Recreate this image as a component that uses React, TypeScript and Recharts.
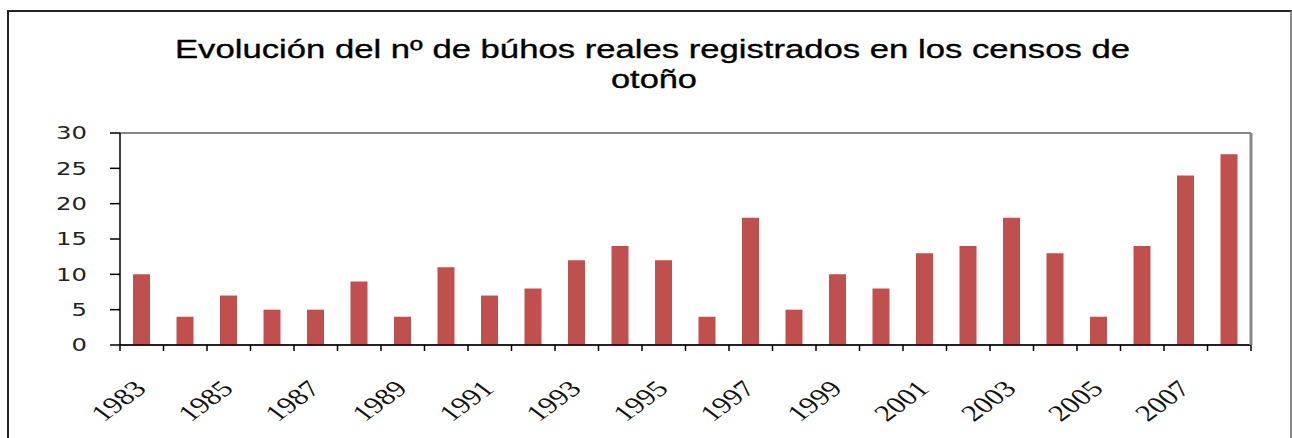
import React from 'react';
import { BarChart, Bar, XAxis, YAxis, CartesianGrid, ReferenceLine } from 'recharts';

const years = ['1983', '1984', '1985', '1986', '1987', '1988', '1989', '1990', '1991', '1992', '1993', '1994', '1995',
  '1996', '1997', '1998', '1999', '2000', '2001', '2002', '2003', '2004', '2005', '2006', '2007', '2008'];
const owls = [10, 4, 7, 5, 5, 9, 4, 11, 7, 8, 12, 14, 12, 4, 18, 5, 10, 8, 13, 14, 18, 13, 4, 14, 24, 27];
const yTicks = [0, 5, 10, 15, 20, 25, 30];
const titleLines = ['Evolución del nº de búhos reales registrados en los censos de', 'otoño'];

const data = years.map((year, i) => ({ year, value: owls[i] }));

const W = 1292;
const H = 438;
const PLOT_LEFT = 120;
const PLOT_RIGHT = 1251;
const STRETCH = 1.35;

const YTick = ({ x, y, payload }: any) => (
  <text
    transform={`translate(${x},${y}) scale(${STRETCH},1)`}
    textAnchor="end"
    dy="0.36em"
    fontFamily="'DejaVu Sans', sans-serif"
    fontSize={18}
    fill="#222"
  >
    {payload.value}
  </text>
);

const XTick = ({ x, y, payload, index }: any) => {
  const half = payload.offset || (PLOT_RIGHT - PLOT_LEFT) / years.length / 2;
  const last = index === years.length - 1;
  return (
    <g>
      <line x1={x - half} x2={x - half} y1={y} y2={y + 6} stroke="#000" strokeWidth={1.5} />
      {last && <line x1={x + half} x2={x + half} y1={y} y2={y + 6} stroke="#000" strokeWidth={1.5} />}
      {index % 2 === 0 && (
        <text
          transform={`translate(${x + 6},${y + 45}) scale(${STRETCH},1) rotate(-45)`}
          textAnchor="end"
          fontFamily="'Liberation Serif', serif"
          fontSize={23}
          fill="#111"
        >
          {payload.value}
        </text>
      )}
    </g>
  );
};

export default function App() {
  return (
    <div style={{ position: 'absolute', left: 0, top: 0, width: W, height: H, background: '#fff', overflow: 'hidden' }}>
      <div
        style={{
          position: 'absolute', left: 7, top: 10, width: 1281, height: 460,
          borderLeft: '2px solid #222', borderTop: '2px solid #222', borderRight: '2px solid #888',
        }}
      />
      <svg width={W} height={110} style={{ position: 'absolute', left: 0, top: 0 }}>
        <text x={175} y={58} textLength={955} lengthAdjust="spacingAndGlyphs"
          fontFamily="'Liberation Sans', Arial, sans-serif" fontSize={26} fill="#000" stroke="#000" strokeWidth={0.35}>
          {titleLines[0]}
        </text>
        <text x={654} y={88} textAnchor="middle" textLength={86} lengthAdjust="spacingAndGlyphs"
          fontFamily="'Liberation Sans', Arial, sans-serif" fontSize={26} fill="#000" stroke="#000" strokeWidth={0.35}>
          {titleLines[1]}
        </text>
      </svg>
      <div style={{ position: 'absolute', left: 0, top: 0 }}>
        <BarChart width={W} height={H} data={data} margin={{ top: 133, right: 0, left: 0, bottom: 13 }} barSize={17}>
          <CartesianGrid horizontal vertical={false} stroke="#111" strokeWidth={1} />
          <XAxis
            dataKey="year"
            interval={0}
            height={80}
            tickLine={false}
            tickSize={0}
            tickMargin={0}
            axisLine={{ stroke: '#000', strokeWidth: 1.5 }}
            tick={<XTick />}
          />
          <YAxis
            yAxisId="left"
            domain={[0, 30]}
            ticks={yTicks}
            width={120}
            tickSize={10}
            tickMargin={23}
            tickLine={{ stroke: '#000', strokeWidth: 1.5 }}
            axisLine={{ stroke: '#000', strokeWidth: 1.5 }}
            tick={<YTick />}
          />
          <YAxis
            yAxisId="right"
            orientation="right"
            domain={[0, 30]}
            width={41}
            tick={false}
            tickLine={false}
            axisLine={{ stroke: '#888', strokeWidth: 3 }}
          />
          <ReferenceLine yAxisId="left" y={30} stroke="#888" strokeWidth={2} />
          <Bar yAxisId="left" dataKey="value" fill="#C0504D" isAnimationActive={false} />
        </BarChart>
      </div>
    </div>
  );
}
